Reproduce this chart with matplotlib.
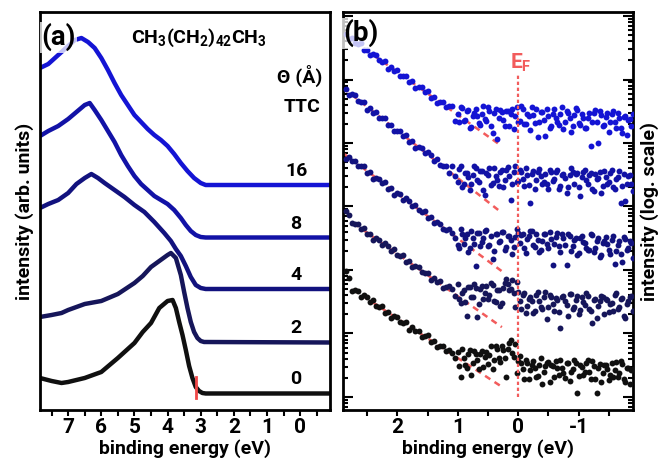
import numpy as np
import matplotlib
matplotlib.use('Agg')
import matplotlib.pyplot as plt
from matplotlib.ticker import MultipleLocator, LogLocator, NullFormatter

plt.rcParams['font.family'] = ['Roboto', 'DejaVu Sans']
plt.rcParams['font.weight'] = 'bold'
plt.rcParams['axes.unicode_minus'] = False
plt.rcParams['mathtext.default'] = 'regular'

# TTC coverage (Angstrom) for each spectrum, bottom to top
coverages = ['0', '2', '4', '8', '16']
colors = ['#101010', '#16165a', '#12127e', '#1212a6', '#1414d4']
red = '#f25c5c'

# ---- panel (a): valence band spectra (arb. units) ----
e_a_0 = [7.85, 7.5, 7.2, 7.0, 6.5, 6.0, 5.5, 5.0, 4.75, 4.5, 4.25, 4.0, 3.85, 3.75,
         3.65, 3.55, 3.45, 3.35, 3.25, 3.15, 3.05, 2.95, 2.85, -0.9]
int_a_0 = [32, 29, 27, 28, 32, 38, 52, 67, 78, 87, 102, 109, 110, 102,
           88, 75, 60, 44, 32, 23, 19, 17, 16.5, 16.5]
e_a_2 = [7.85, 7.5, 7.2, 7.0, 6.5, 6.0, 5.5, 5.0, 4.75, 4.5, 4.25, 4.0, 3.9, 3.75,
         3.6, 3.5, 3.4, 3.3, 3.2, 3.1, 3.0, 2.9, -0.9]
int_a_2 = [93, 95, 97, 100, 106, 109, 116, 127, 134, 143, 149, 155, 157, 152,
           135, 118, 102, 88, 78, 72, 69, 68, 67.5]
e_a_4 = [7.85, 7.6, 7.3, 7.0, 6.75, 6.5, 6.3, 6.1, 5.9, 5.6, 5.3, 5.0, 4.7, 4.4,
         4.1, 3.9, 3.75, 3.6, 3.45, 3.3, 3.15, 3.0, 2.85, -0.9]
int_a_4 = [202, 206, 210, 217, 226, 232, 236, 232, 227, 220, 213, 205, 198, 188,
           177, 169, 161, 154, 144, 133, 125, 122, 121, 121]
e_a_8 = [7.85, 7.6, 7.3, 7.0, 6.75, 6.5, 6.35, 6.2, 6.0, 5.8, 5.6, 5.4, 5.2, 5.0,
         4.8, 4.6, 4.4, 4.2, 4.0, 3.8, 3.6, 3.45, 3.3, 3.15, 3.0, 2.85, -0.9]
int_a_8 = [274, 279, 284, 291, 298, 305, 307, 300, 290, 279, 268, 255, 244, 234,
           226, 220, 214, 210, 206, 200, 192, 185, 179, 175, 173, 172.5, 172.5]
e_a_16 = [7.85, 7.6, 7.4, 7.2, 7.0, 6.8, 6.6, 6.4, 6.2, 6.0, 5.8, 5.6, 5.4, 5.2,
          5.0, 4.8, 4.6, 4.4, 4.2, 4.0, 3.8, 3.6, 3.4, 3.2, 3.0, 2.85, -0.9]
int_a_16 = [342, 346, 352, 358, 364, 370, 372, 368, 362, 352, 340, 327, 315, 305,
            295, 288, 281, 275, 270, 264, 256, 247, 239, 232, 227, 225, 225]
onset_e = 3.14

# ---- panel (b): near E_F region, log10 of intensity ----
e_b = [2.85, 2.80, 2.75, 2.70, 2.65, 2.60, 2.55, 2.50, 2.45, 2.40,
       2.35, 2.30, 2.25, 2.20, 2.15, 2.10, 2.05, 2.00, 1.95, 1.90,
       1.85, 1.80, 1.75, 1.70, 1.65, 1.60, 1.55, 1.50, 1.45, 1.40,
       1.35, 1.30, 1.25, 1.20, 1.15, 1.10, 1.05, 1.00, 0.95, 0.90,
       0.85, 0.80, 0.75, 0.70, 0.65, 0.60, 0.55, 0.50, 0.45, 0.40,
       0.35, 0.30, 0.25, 0.20, 0.15, 0.10, 0.05, 0.00, -0.05, -0.10,
       -0.15, -0.20, -0.25, -0.30, -0.35, -0.40, -0.45, -0.50, -0.55, -0.60,
       -0.65, -0.70, -0.75, -0.80, -0.85, -0.90, -0.95, -1.00, -1.05, -1.10,
       -1.15, -1.20, -1.25, -1.30, -1.35, -1.40, -1.45, -1.50, -1.55, -1.60,
       -1.65, -1.70, -1.75, -1.80, -1.85, -1.90]
log_b_0 = [2.99, 2.87, 2.67, 2.68, 2.67, 2.58, 2.61, 2.57, 2.49, 2.52,
           2.44, 2.42, 2.44, 2.33, 2.34, 2.25, 2.27, 2.26, 2.18, 2.17,
           2.18, 2.06, 2.10, 2.04, 2.04, 1.95, 1.96, 1.97, 1.87, 1.88,
           1.79, 1.80, 1.80, 1.72, 1.74, 1.69, 1.61, 1.71, 1.31, 1.61,
           1.46, 1.74, 1.54, 1.68, 1.44, 1.73, 1.63, 1.52, 1.80, 1.58,
           1.75, 1.55, 1.74, 1.32, 1.85, 1.69, 1.84, 1.56, 1.54, 1.29,
           1.54, 1.42, 1.57, 1.32, 1.50, 1.21, 1.48, 1.55, 1.51, 1.31,
           1.46, 1.58, 1.37, 1.53, 1.25, 1.44, 1.54, 1.33, 1.47, 1.39,
           1.58, 1.28, 1.49, 1.06, 1.52, 1.37, 1.50, 1.26, 1.54, 1.42,
           1.32, 1.57, 1.29, 1.46, 1.20, 1.44]
log_b_2 = [3.93, 3.86, 3.74, 3.72, 3.72, 3.64, 3.66, 3.56, 3.57, 3.47,
           3.50, 3.48, 3.40, 3.43, 3.38, 3.30, 3.33, 3.24, 3.22, 3.24,
           3.12, 3.14, 3.05, 3.06, 3.05, 2.97, 2.95, 2.96, 2.84, 2.87,
           2.81, 2.82, 2.72, 2.73, 2.74, 2.70, 2.59, 2.78, 2.48, 2.69,
           2.27, 2.73, 2.58, 2.71, 2.47, 2.75, 2.63, 2.54, 2.79, 2.51,
           2.68, 2.44, 2.72, 2.86, 2.69, 2.84, 2.42, 2.65, 2.38, 2.64,
           2.44, 2.57, 2.33, 2.61, 2.51, 2.38, 2.66, 2.42, 2.57, 2.35,
           2.52, 2.08, 2.59, 2.45, 2.62, 2.38, 2.53, 2.30, 2.57, 2.45,
           2.59, 2.35, 2.53, 2.24, 2.51, 2.58, 2.54, 2.34, 2.48, 2.60,
           2.39, 2.55, 2.27, 2.47, 2.57, 2.36]
log_b_4 = [4.75, 4.78, 4.72, 4.72, 4.63, 4.63, 4.64, 4.53, 4.54, 4.44,
           4.45, 4.44, 4.37, 4.38, 4.28, 4.29, 4.18, 4.21, 4.19, 4.11,
           4.13, 4.09, 4.00, 4.03, 3.94, 3.92, 3.93, 3.82, 3.83, 3.74,
           3.75, 3.73, 3.65, 3.63, 3.64, 3.58, 3.50, 3.39, 3.65, 3.41,
           3.56, 3.34, 3.51, 3.07, 3.58, 3.44, 3.61, 3.38, 3.53, 3.30,
           3.57, 3.45, 3.60, 3.36, 3.54, 3.25, 3.52, 3.59, 3.55, 3.35,
           3.49, 3.61, 3.40, 3.56, 3.28, 3.46, 3.56, 3.35, 3.49, 3.41,
           3.59, 3.29, 3.50, 3.08, 3.54, 3.37, 3.50, 3.26, 3.54, 3.42,
           3.32, 3.57, 3.29, 3.46, 3.20, 3.42, 3.52, 3.31, 3.48, 3.10,
           3.40, 3.25, 3.52, 3.32, 3.45, 3.19]
log_b_8 = [5.85, 5.75, 5.77, 5.75, 5.66, 5.64, 5.65, 5.52, 5.55, 5.48,
           5.49, 5.39, 5.39, 5.39, 5.29, 5.29, 5.19, 5.19, 5.19, 5.11,
           5.12, 5.01, 5.03, 4.92, 4.94, 4.92, 4.84, 4.86, 4.81, 4.72,
           4.75, 4.66, 4.63, 4.64, 4.53, 4.63, 4.48, 4.38, 4.63, 4.35,
           4.52, 4.26, 4.50, 4.60, 4.39, 4.56, 4.18, 4.49, 4.34, 4.61,
           4.41, 4.54, 4.30, 4.58, 4.48, 4.36, 4.64, 4.40, 4.55, 4.33,
           4.49, 4.05, 4.56, 4.42, 4.59, 4.36, 4.51, 4.28, 4.55, 4.43,
           4.57, 4.33, 4.51, 4.22, 4.49, 4.55, 4.51, 4.31, 4.46, 4.58,
           4.36, 4.52, 4.24, 4.44, 4.54, 4.32, 4.46, 4.38, 4.57, 4.27,
           4.47, 4.05, 4.51, 4.36, 4.49, 4.24]
log_b_16 = [6.72, 6.64, 6.66, 6.58, 6.56, 6.57, 6.46, 6.47, 6.38, 6.40,
            6.38, 6.30, 6.28, 6.29, 6.17, 6.20, 6.14, 6.15, 6.05, 6.06,
            6.06, 5.96, 5.97, 5.87, 5.88, 5.88, 5.80, 5.82, 5.71, 5.73,
            5.63, 5.65, 5.64, 5.56, 5.58, 5.58, 5.34, 5.46, 5.57, 5.35,
            5.51, 5.23, 5.43, 5.53, 5.32, 5.46, 5.38, 5.57, 5.27, 5.48,
            5.06, 5.52, 5.37, 5.50, 5.26, 5.54, 5.42, 5.33, 5.58, 5.30,
            5.46, 5.20, 5.44, 5.54, 5.33, 5.49, 5.11, 5.42, 5.27, 5.54,
            5.33, 5.46, 5.22, 5.50, 5.40, 5.27, 5.55, 5.31, 5.46, 5.24,
            5.40, 4.96, 5.47, 5.33, 5.50, 5.26, 5.41, 5.18, 5.45, 5.33,
            5.47, 5.23, 5.41, 5.12, 5.38, 5.45]

# interleaved second sweep over the flat region (below 1 eV)
e_b_fill = [0.975, 0.925, 0.875, 0.825, 0.775, 0.725, 0.675, 0.625, 0.575, 0.525,
            0.475, 0.425, 0.375, 0.325, 0.275, 0.225, 0.175, 0.125, 0.075, 0.025,
            -0.025, -0.075, -0.125, -0.175, -0.225, -0.275, -0.325, -0.375, -0.425, -0.475,
            -0.525, -0.575, -0.625, -0.675, -0.725, -0.775, -0.825, -0.875, -0.925, -0.975,
            -1.025, -1.075, -1.125, -1.175, -1.225, -1.275, -1.325, -1.375, -1.425, -1.475,
            -1.525, -1.575, -1.625, -1.675, -1.725, -1.775, -1.825, -1.875]
log_fill_0 = [1.48, 1.75, 1.51, 1.67, 1.34, 1.72, 1.59, 1.68, 1.47, 1.71,
              1.66, 1.44, 1.80, 1.61, 1.81, 1.61, 1.76, 1.89, 1.63, 1.38,
              1.65, 1.44, 1.58, 1.29, 1.51, 1.45, 1.33, 1.62, 1.39, 1.54,
              1.23, 1.49, 1.57, 1.34, 1.45, 1.30, 1.54, 1.39, 1.59, 1.07,
              1.50, 1.35, 1.54, 1.40, 1.57, 1.29, 1.46, 1.23, 1.50, 1.44,
              1.35, 1.32, 1.55, 1.37, 1.52, 1.24, 1.46, 1.42]
log_fill_2 = [2.54, 2.64, 2.49, 2.73, 2.58, 2.78, 2.26, 2.70, 2.55, 2.74,
              2.60, 2.77, 2.50, 2.68, 2.48, 2.79, 2.78, 2.70, 2.63, 2.81,
              2.51, 2.60, 2.33, 2.55, 2.51, 2.36, 2.65, 2.41, 2.57, 2.23,
              2.61, 2.47, 2.56, 2.34, 2.58, 2.51, 2.28, 2.62, 2.41, 2.59,
              2.37, 2.50, 2.63, 2.39, 2.17, 2.55, 2.43, 2.59, 2.31, 2.53,
              2.47, 2.35, 2.64, 2.41, 2.56, 2.25, 2.51, 2.59]
log_fill_4 = [3.34, 3.57, 3.51, 3.28, 3.62, 3.41, 3.59, 3.37, 3.50, 3.63,
              3.39, 3.17, 3.56, 3.44, 3.60, 3.32, 3.54, 3.48, 3.36, 3.65,
              3.42, 3.57, 3.27, 3.53, 3.61, 3.36, 3.47, 3.32, 3.56, 3.41,
              3.60, 3.08, 3.52, 3.37, 3.56, 3.40, 3.57, 3.30, 3.47, 3.24,
              3.50, 3.44, 3.35, 3.32, 3.55, 3.35, 3.50, 3.23, 3.45, 3.41,
              3.25, 3.54, 3.30, 3.46, 3.12, 3.49, 3.35, 3.43]
log_fill_8 = [4.59, 4.31, 4.53, 4.47, 4.35, 4.64, 4.41, 4.56, 4.26, 4.52,
              4.60, 4.37, 4.48, 4.33, 4.57, 4.42, 4.62, 4.10, 4.54, 4.39,
              4.58, 4.44, 4.61, 4.34, 4.51, 4.27, 4.54, 4.48, 4.39, 4.36,
              4.58, 4.40, 4.55, 4.28, 4.50, 4.45, 4.31, 4.60, 4.36, 4.52,
              4.17, 4.55, 4.41, 4.50, 4.28, 4.51, 4.45, 4.22, 4.56, 4.35,
              4.52, 4.30, 4.43, 4.56, 4.32, 4.09, 4.48, 4.36]
log_fill_16 = [5.33, 5.55, 5.37, 5.52, 5.25, 5.47, 5.43, 5.29, 5.58, 5.34,
               5.50, 5.16, 5.54, 5.40, 5.49, 5.27, 5.51, 5.45, 5.22, 5.56,
               5.35, 5.53, 5.30, 5.43, 5.56, 5.32, 5.10, 5.49, 5.37, 5.53,
               5.24, 5.46, 5.40, 5.28, 5.57, 5.33, 5.48, 5.18, 5.44, 5.52,
               5.28, 5.39, 5.24, 5.48, 5.33, 5.52, 5.00, 5.44, 5.29, 5.48,
               5.33, 5.50, 5.23, 5.40, 5.16, 5.43, 5.37, 5.27]

# exponential tail fits: start energy, log10 at start, log10 at end (end at 0.27 eV)
fit_e_start = [2.73, 2.73, 2.90, 2.90, 2.70]
fit_log_start = [2.69, 3.74, 4.84, 5.87, 6.59]
fit_log_end = [1.16, 2.10, 2.98, 3.90, 4.95]
fit_e_end = 0.27

e_a = [e_a_0, e_a_2, e_a_4, e_a_8, e_a_16]
int_a = [int_a_0, int_a_2, int_a_4, int_a_8, int_a_16]
log_b = [log_b_0, log_b_2, log_b_4, log_b_8, log_b_16]
log_fill = [log_fill_0, log_fill_2, log_fill_4, log_fill_8, log_fill_16]

fig = plt.figure(figsize=(6.61, 4.66), dpi=100)
ax1 = fig.add_axes([0.0605, 0.1202, 0.4387, 0.854])
ax2 = fig.add_axes([0.5189, 0.1202, 0.4387, 0.854])

# panel (a)
for e, y, c, lab in zip(e_a, int_a, colors, coverages):
    ax1.plot(e, y, color=c, lw=3.2, solid_joinstyle='round', solid_capstyle='round')
    ax1.text(0.12, y[-1] + 14, lab, ha='center', va='center', fontsize=14, fontweight='bold')
ax1.plot([onset_e, onset_e], [12, 33], color='#f04848', lw=2)

ax1.set_xlim(7.85, -0.9)
ax1.set_ylim(0, 398)
ax1.xaxis.set_major_locator(MultipleLocator(1))
ax1.xaxis.set_minor_locator(MultipleLocator(0.5))
ax1.tick_params(axis='x', which='both', direction='out', length=4, width=1.5,
                labelsize=15, pad=2)
ax1.set_yticks([])
ax1.set_xlabel('binding energy (eV)', fontsize=14, fontweight='bold', labelpad=1)
ax1.set_ylabel('intensity (arb. units)', fontsize=14, fontweight='bold', labelpad=4)

ax1.text(0.005, 0.937, '(a)', transform=ax1.transAxes, fontsize=20, fontweight='bold',
         ha='left', va='center',
         bbox=dict(facecolor='white', edgecolor='none', alpha=0.75, pad=1))
ax1.text(0.548, 0.935, 'CH$_{3}$(CH$_{2}$)$_{42}$CH$_{3}$', transform=ax1.transAxes,
         fontsize=14, fontweight='bold', ha='center', va='center')
ax1.text(0.975, 0.839, '\u0398 (\u00c5)', transform=ax1.transAxes, fontsize=14,
         fontweight='bold', ha='right', va='center')
ax1.text(0.968, 0.761, 'TTC', transform=ax1.transAxes, fontsize=14, fontweight='bold',
         ha='right', va='center')

# panel (b)
ax2.set_yscale('log')
for e0, l0, l1 in zip(fit_e_start, fit_log_start, fit_log_end):
    ax2.plot([e0, fit_e_end], [10 ** l0, 10 ** l1], color=red, lw=1.8, dashes=(2.5, 2))
for lg, lf, c in zip(log_b, log_fill, colors):
    ax2.scatter(e_b, 10 ** np.array(lg), s=18, color=c, linewidths=0, zorder=3)
    ax2.scatter(e_b_fill, 10 ** np.array(lf), s=18, color=c, linewidths=0, zorder=3)
ax2.plot([0, 0], [10 ** 1.0, 10 ** 6.1], color=red, lw=1.6, dashes=(1.5, 1.2), zorder=4)
ax2.text(0.14, 10 ** 6.26, 'E$_{F}$', color=red, fontsize=15, fontweight='bold',
         ha='left', va='center')

ax2.set_xlim(2.9, -1.9)
ax2.set_ylim(10 ** 0.795, 10 ** 7.063)
ax2.xaxis.set_major_locator(MultipleLocator(1))
ax2.xaxis.set_minor_locator(MultipleLocator(0.5))
ax2.yaxis.set_major_locator(LogLocator(base=10, numticks=20))
ax2.yaxis.set_minor_locator(LogLocator(base=10, subs=np.arange(2, 10), numticks=20))
ax2.yaxis.set_minor_formatter(NullFormatter())
ax2.tick_params(axis='x', which='both', direction='out', length=4, width=1.5,
                labelsize=15, pad=2)
ax2.tick_params(axis='y', which='both', direction='in', left=True, right=True,
                labelleft=False, labelright=False, width=1.5)
ax2.tick_params(axis='y', which='major', length=7)
ax2.tick_params(axis='y', which='minor', length=3.5)
ax2.set_xlabel('binding energy (eV)', fontsize=14, fontweight='bold', labelpad=1)
ax2.yaxis.set_label_position('right')
ax2.set_ylabel('intensity (log. scale)', fontsize=14, fontweight='bold', labelpad=5)
ax2.text(0.0, 0.947, '(b)', transform=ax2.transAxes, fontsize=20, fontweight='bold',
         ha='left', va='center',
         bbox=dict(facecolor='white', edgecolor='none', alpha=0.75, pad=1), zorder=5)

for ax in (ax1, ax2):
    for sp in ax.spines.values():
        sp.set_linewidth(2)
    for lbl in ax.get_xticklabels():
        lbl.set_fontweight('bold')

fig.savefig('out.png', dpi=100)
